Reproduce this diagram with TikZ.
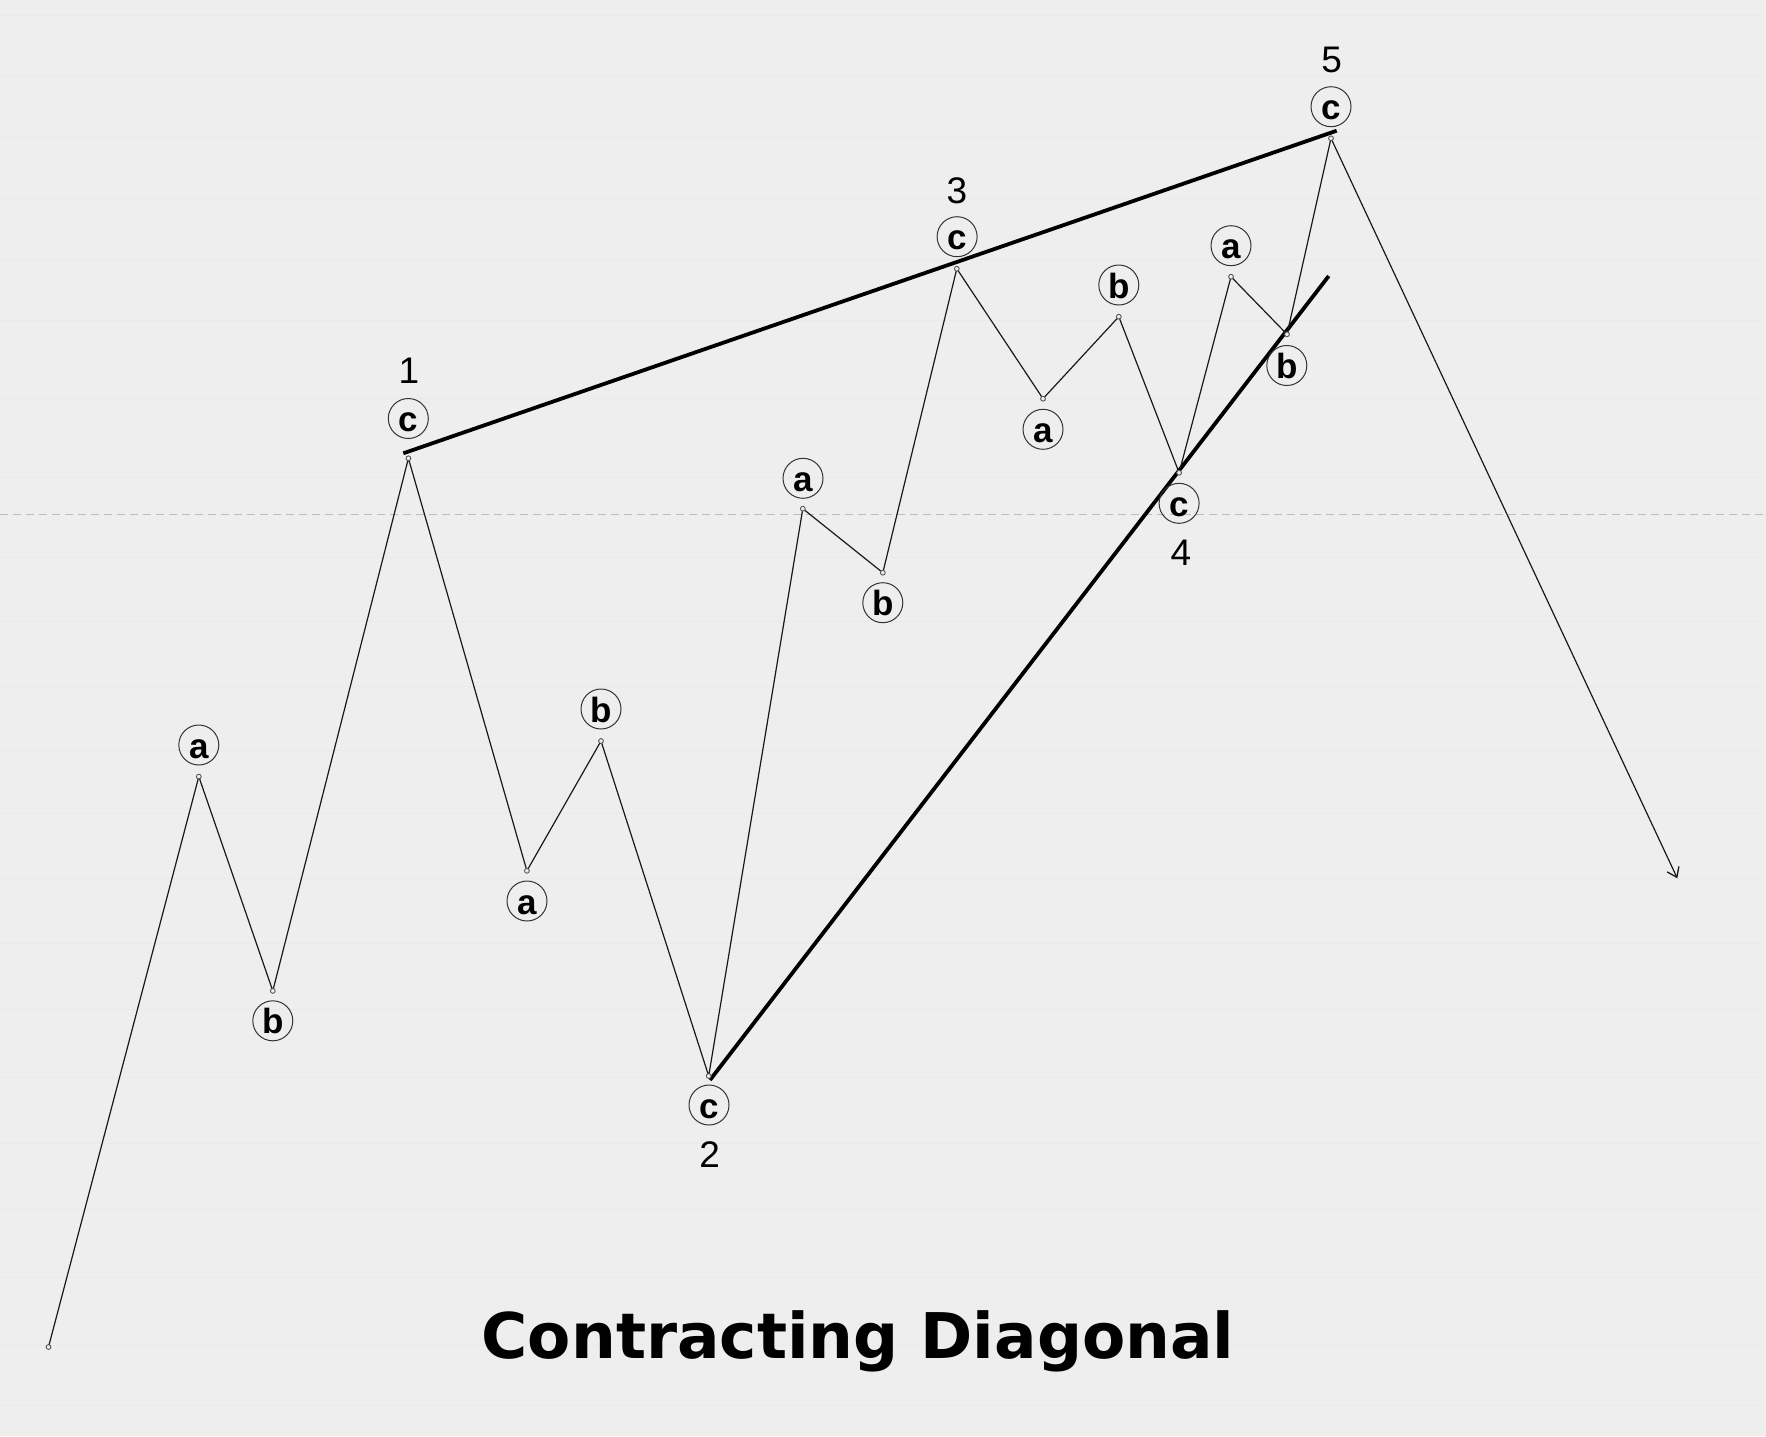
\documentclass[tikz,border=0pt]{standalone}
\usepackage{fontspec}
\setmainfont{Liberation Sans}
\newfontfamily\titlefont{DejaVu Sans}
\usetikzlibrary{arrows.meta}
\definecolor{bg}{HTML}{EEEEEE}
\definecolor{gridc}{HTML}{E8EBEE}
\definecolor{dashc}{HTML}{BDBDBD}
\definecolor{ringc}{HTML}{333333}
\definecolor{markc}{HTML}{555555}
\tikzset{
  wavelbl/.style={circle, draw=ringc, line width=1pt, minimum size=40pt, inner sep=0pt,
    text height=26pt, text depth=0pt, font=\fontsize{35}{35}\selectfont\bfseries},
  numlbl/.style={inner sep=0pt, font=\fontsize{37}{37}\selectfont},
  zig/.style={draw=black!90, line width=1.2pt, line join=miter},
  trend/.style={draw=black, line width=3.8pt},
  marker/.style={draw=markc, fill=bg, line width=0.9pt},
  gridline/.style={draw=gridc, line width=1pt},
}
\begin{document}
\begin{tikzpicture}[x=1pt, y=-1pt]
\fill[bg] (0,0) rectangle (1766,1436);
\useasboundingbox (0,0) rectangle (1766,1436);
% faint horizontal grid
\foreach \yy in {15,76,137,198,259,320,398,477,557,621,686,750,813,878,943,1009,1077,1143,1209,1277,1345,1405}
  \draw[gridline] (0,\yy) -- (1766,\yy);
% dashed reference line
\coordinate (dl) at (0,514.7);
\coordinate (dr) at (1766,514.7);
\draw[dashc, line width=1.3pt, dash pattern=on 8pt off 5pt] (dl) -- (dr);

% wave points
\coordinate (p0)  at (48.5,1347);
\coordinate (p1a) at (198.8,776.6);
\coordinate (p1b) at (272.8,990.9);
\coordinate (p1c) at (408.4,458.3);
\coordinate (p2a) at (526.9,870.8);
\coordinate (p2b) at (601,741);
\coordinate (p2c) at (708.7,1076);
\coordinate (p3a) at (802.8,508.7);
\coordinate (p3b) at (882.8,572.7);
\coordinate (p3c) at (956.8,268.7);
\coordinate (p4a) at (1043,398.7);
\coordinate (p4b) at (1118.8,316.7);
\coordinate (p4c) at (1179.1,472.7);
\coordinate (p5a) at (1231,276.7);
\coordinate (p5b) at (1287,334.3);
\coordinate (p5c) at (1331,138.3);
\coordinate (pend) at (1677.3,878.3);

% trend lines
\coordinate (u1) at (403.3,453.3);
\coordinate (u2) at (1336.7,130.7);
\coordinate (l1) at (710,1080);
\coordinate (l2) at (1328.7,276);
\draw[trend] (u1) -- (u2);
\draw[trend] (l1) -- (l2);

% zigzag
\draw[zig] (p0) -- (p1a) -- (p1b) -- (p1c) -- (p2a) -- (p2b) -- (p2c)
  -- (p3a) -- (p3b) -- (p3c) -- (p4a) -- (p4b) -- (p4c)
  -- (p5a) -- (p5b) -- (p5c);
\draw[zig, -{Straight Barb[length=9pt, width=13pt, line width=1.3pt]}] (p5c) -- (pend);

% markers
\foreach \p in {p0,p1a,p1b,p1c,p2a,p2b,p2c,p3a,p3b,p3c,p4a,p4b,p4c,p5a,p5b,p5c}
  \draw[marker] (\p) circle (2.4pt);

% circled labels
\node[wavelbl] (l1a) at (198.8,745) {a};
\node[wavelbl] (l1b) at (272.8,1020.8) {b};
\node[wavelbl] (l1c) at (408.3,418.5) {c};
\node[wavelbl] (l2a) at (527,901) {a};
\node[wavelbl] (l2b) at (601,709) {b};
\node[wavelbl] (l2c) at (709,1105) {c};
\node[wavelbl] (l3a) at (803,478.3) {a};
\node[wavelbl] (l3b) at (882.8,602.7) {b};
\node[wavelbl] (l3c) at (957.1,236.7) {c};
\node[wavelbl] (l4a) at (1043,429.3) {a};
\node[wavelbl] (l4b) at (1118.8,285) {b};
\node[wavelbl] (l4c) at (1179.1,503.3) {c};
\node[wavelbl] (l5a) at (1231,245.7) {a};
\node[wavelbl] (l5b) at (1286.8,365.5) {b};
\node[wavelbl] (l5c) at (1331,106.7) {c};

% wave numbers
\node[numlbl] (n1) at (409,371) {1};
\node[numlbl] (n2) at (709.7,1155) {2};
\node[numlbl] (n3) at (957,191) {3};
\node[numlbl] (n4) at (1181,553) {4};
\node[numlbl] (n5) at (1331.7,60) {5};

% title
\node[inner sep=0pt, anchor=base, font=\titlefont\bfseries\fontsize{63}{63}\selectfont] (title) at (858,1358) {Contracting Diagonal};
\end{tikzpicture}
\end{document}
